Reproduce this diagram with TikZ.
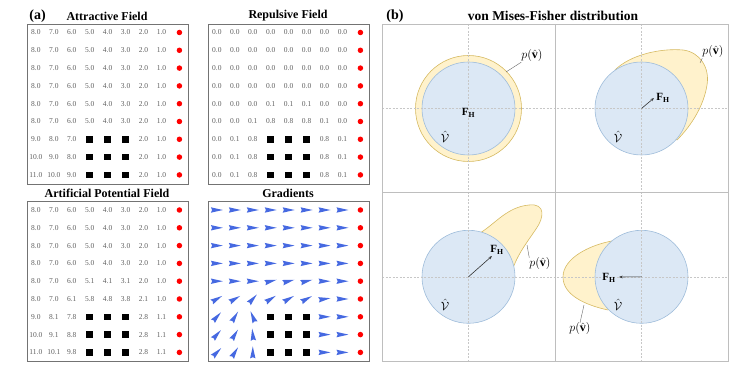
\documentclass[tikz,border=0pt]{standalone}
\usepackage{fontspec}
\setmainfont{Liberation Serif}
\usepackage{amsmath,amssymb}
\usetikzlibrary{arrows.meta,positioning,calc}
\definecolor{numgray}{RGB}{95,95,95}
\definecolor{framegray}{RGB}{115,115,115}
\definecolor{panelgray}{RGB}{190,190,190}
\definecolor{gradblue}{RGB}{70,105,225}
\definecolor{vmfblue}{RGB}{220,232,245}
\definecolor{vmfblueline}{RGB}{158,188,218}
\definecolor{vmfyellow}{RGB}{255,242,204}
\definecolor{vmfyellowline}{RGB}{214,186,98}

\def\obstacle{x}
% field grid: name, left, top, rows of values (x = obstacle)
\newcommand{\fieldgrid}[4]{%
  \foreach \vals [count=\r] in {#4} {
    \foreach \v [count=\c] in \vals {
      \edef\cellval{\v}
      \ifx\cellval\obstacle
        \node[obst] (#1-\r-\c) at ({#2+8.9+17.94*(\c-1)},{#3+8.5+17.8*(\r-1)}) {};
      \else
        \node[num] (#1-\r-\c) at ({#2+8.9+17.94*(\c-1)},{#3+8.5+17.8*(\r-1)}) {\v};
      \fi
    }
    \node[goal] (#1-\r-goal) at ({#2+8.9+17.94*8},{#3+8.5+17.8*(\r-1)}) {};
  }
  \node[fieldbox] (#1) at (#2,#3) {};
}
% gradient grid: name, left, top, rows of angles (x = obstacle)
\newcommand{\gradgrid}[4]{%
  \foreach \vals [count=\r] in {#4} {
    \foreach \v [count=\c] in \vals {
      \edef\cellval{\v}
      \ifx\cellval\obstacle
        \node[obst] (#1-\r-\c) at ({#2+8.9+17.94*(\c-1)},{#3+8.5+17.8*(\r-1)}) {};
      \else
        \fill[gradblue,shift={({#2+8.9+17.94*(\c-1)},{#3+8.5+17.8*(\r-1)})},rotate=\v]
          (6,0) -- (-6,2.7) -- (-4.8,0) -- (-6,-2.7) -- cycle;
      \fi
    }
    \node[goal] (#1-\r-goal) at ({#2+8.9+17.94*8},{#3+8.5+17.8*(\r-1)}) {};
  }
  \node[fieldbox] (#1) at (#2,#3) {};
}

\begin{document}
\begin{tikzpicture}[x=1pt,y=-1pt,
  num/.style={font=\fontsize{7.5}{8}\selectfont,text=numgray,inner sep=0pt},
  obst/.style={fill=black,minimum size=6.5pt,inner sep=0pt},
  goal/.style={circle,fill=red,minimum size=5.5pt,inner sep=0pt},
  fieldbox/.style={draw=framegray,line width=1pt,minimum width=161pt,
                   minimum height=160pt,anchor=north west,inner sep=0pt},
  fieldtitle/.style={font=\fontsize{12}{14}\selectfont\bfseries},
  panellabel/.style={font=\fontsize{14}{16}\selectfont\bfseries},
  vmfline/.style={draw=panelgray,line width=1pt},
  crosshair/.style={draw=black!22,line width=0.4pt,dash pattern=on 2pt off 1.5pt},
  vcirc/.style={fill=vmfblue,draw=vmfblueline,line width=0.6pt},
  pdens/.style={fill=vmfyellow,draw=vmfyellowline,line width=0.6pt},
  leader/.style={draw=black!60,line width=0.4pt},
  flow/.style={-{Stealth[length=3.5pt,width=2.6pt]},draw=black!80,line width=0.6pt},
  mlabel/.style={font=\fontsize{12}{14}\selectfont,inner sep=0pt},
  fhlabel/.style={font=\fontsize{11}{13}\selectfont,inner sep=0pt}
]
\useasboundingbox (0,0) rectangle (740,371);

% (a) fields
\node[panellabel] (lab-a) at (37.5,16) {(a)};
\node[fieldtitle] (t-att) at (107,16) {Attractive Field};
\node[fieldtitle] (t-rep) at (288,16) {Repulsive Field};
\node[fieldtitle] (t-apf) at (107,193) {Artificial Potential Field};
\node[fieldtitle] (t-grad) at (288,193) {Gradients};

\fieldgrid{att}{27}{24}{
  {8.0,7.0,6.0,5.0,4.0,3.0,2.0,1.0},
  {8.0,7.0,6.0,5.0,4.0,3.0,2.0,1.0},
  {8.0,7.0,6.0,5.0,4.0,3.0,2.0,1.0},
  {8.0,7.0,6.0,5.0,4.0,3.0,2.0,1.0},
  {8.0,7.0,6.0,5.0,4.0,3.0,2.0,1.0},
  {8.0,7.0,6.0,5.0,4.0,3.0,2.0,1.0},
  {9.0,8.0,7.0,x,x,x,2.0,1.0},
  {10.0,9.0,8.0,x,x,x,2.0,1.0},
  {11.0,10.0,9.0,x,x,x,2.0,1.0}}

\fieldgrid{rep}{208}{24}{
  {0.0,0.0,0.0,0.0,0.0,0.0,0.0,0.0},
  {0.0,0.0,0.0,0.0,0.0,0.0,0.0,0.0},
  {0.0,0.0,0.0,0.0,0.0,0.0,0.0,0.0},
  {0.0,0.0,0.0,0.0,0.0,0.0,0.0,0.0},
  {0.0,0.0,0.0,0.1,0.1,0.1,0.0,0.0},
  {0.0,0.0,0.1,0.8,0.8,0.8,0.1,0.0},
  {0.0,0.1,0.8,x,x,x,0.8,0.1},
  {0.0,0.1,0.8,x,x,x,0.8,0.1},
  {0.0,0.1,0.8,x,x,x,0.8,0.1}}

\fieldgrid{apf}{27}{201.5}{
  {8.0,7.0,6.0,5.0,4.0,3.0,2.0,1.0},
  {8.0,7.0,6.0,5.0,4.0,3.0,2.0,1.0},
  {8.0,7.0,6.0,5.0,4.0,3.0,2.0,1.0},
  {8.0,7.0,6.0,5.0,4.0,3.0,2.0,1.0},
  {8.0,7.0,6.0,5.1,4.1,3.1,2.0,1.0},
  {8.0,7.0,6.1,5.8,4.8,3.8,2.1,1.0},
  {9.0,8.1,7.8,x,x,x,2.8,1.1},
  {10.0,9.1,8.8,x,x,x,2.8,1.1},
  {11.0,10.1,9.8,x,x,x,2.8,1.1}}

\gradgrid{grad}{208}{201.5}{
  {0,0,0,0,0,0,0,0},
  {0,0,0,0,0,0,0,0},
  {0,0,0,0,0,0,0,0},
  {0,0,0,0,0,0,0,0},
  {0,0,0,14,14,14,0,0},
  {30,30,48,32,30,28,8,0},
  {48,58,112,x,x,x,0,0},
  {48,58,96,x,x,x,0,0},
  {45,58,90,x,x,x,0,0}}

% (b) von Mises-Fisher
\node[panellabel] (lab-b) at (395,16) {(b)};
\node[font=\fontsize{13.5}{15}\selectfont\bfseries] (t-vmf) at (553,16) {von Mises-Fisher distribution};

\coordinate (q1) at (468.5,108.5);
\coordinate (q2) at (641.5,108.5);
\coordinate (q3) at (468.5,276.8);
\coordinate (q4) at (641.5,276.8);

% densities
\fill[pdens] (q1) circle[radius=53];
\filldraw[pdens] (615,70) .. controls (630,55) and (660,48) .. (683,50)
  .. controls (700,52) and (710,68) .. (707,85)
  .. controls (704,105) and (692,125) .. (677,140) -- (q2) -- cycle;
\filldraw[pdens] (480,233) .. controls (495,224) and (507,207) .. (529,205)
  .. controls (546,203) and (544,218) .. (536,229)
  .. controls (528,241) and (519,252) .. (513,268) -- (q3) -- cycle;
\filldraw[pdens] (612,241) .. controls (590,245) and (563,258) .. (563,277)
  .. controls (563,295) and (585,305) .. (608,310) -- (q4) -- cycle;

% unit sphere
\foreach \q in {q1,q2,q3,q4}
  \filldraw[vcirc] (\q) circle[radius=46.5];

% crosshairs
\draw[crosshair] (468.5,24) -- (468.5,361);
\draw[crosshair] (641.5,24) -- (641.5,361);
\draw[crosshair] (382,108.5) -- (728,108.5);
\draw[crosshair] (382,276.8) -- (728,276.8);

% frame
\node[draw=panelgray,line width=1pt,minimum width=346pt,minimum height=337pt,
      anchor=north west,inner sep=0pt] (vmf) at (382,24) {};
\draw[vmfline] (vmf.north) -- (vmf.south);
\draw[vmfline] (vmf.west) -- (vmf.east);

% labels
\node[fhlabel] (fh1) at (468.5,113) {$\mathbf{F}_{\mathbf{H}}$};
\node[fhlabel] (fh2) at (663,98) {$\mathbf{F}_{\mathbf{H}}$};
\node[fhlabel] (fh3) at (497,250) {$\mathbf{F}_{\mathbf{H}}$};
\node[fhlabel] (fh4) at (609,278) {$\mathbf{F}_{\mathbf{H}}$};

\node[mlabel] (v1) at (445,137) {$\hat{\mathcal{V}}$};
\node[mlabel] (v2) at (618,137) {$\hat{\mathcal{V}}$};
\node[mlabel] (v3) at (445,305) {$\hat{\mathcal{V}}$};
\node[mlabel] (v4) at (618,305) {$\hat{\mathcal{V}}$};

\node[mlabel] (p1) at (532,56) {$p(\hat{\mathbf{v}})$};
\node[mlabel] (p2) at (713,52) {$p(\hat{\mathbf{v}})$};
\node[mlabel] (p3) at (540,264) {$p(\hat{\mathbf{v}})$};
\node[mlabel] (p4) at (580,329) {$p(\hat{\mathbf{v}})$};

\coordinate (e1) at (506,72);
\coordinate (e2) at (700,63);
\coordinate (e3) at (527,245);
\coordinate (e4) at (584,305);
\draw[leader] (e1) -- (p1.south west);
\draw[leader] (e2) -- (p2.south west);
\draw[leader] (e3) -- (p3.north west);
\draw[leader] (e4) -- (p4.north);

% resultant direction
\coordinate (h2) at (654,98);
\coordinate (h3) at (492,256);
\coordinate (h4) at (619,277);
\draw[flow] (q2) -- (h2);
\draw[flow] (q3) -- (h3);
\draw[flow] (q4) -- (h4);
\end{tikzpicture}
\end{document}
